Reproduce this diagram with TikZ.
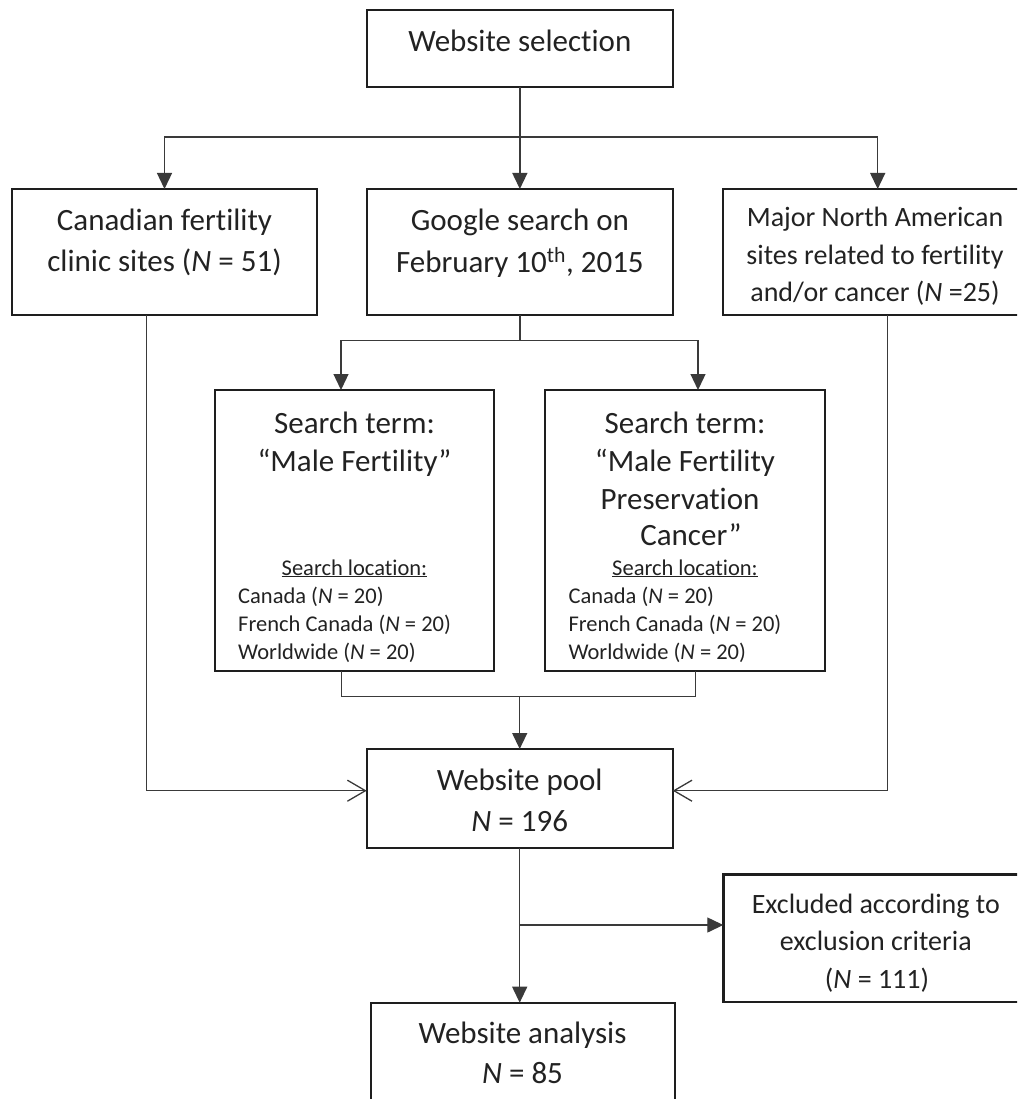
\documentclass[tikz,border=0pt]{standalone}
\usepackage{fontspec}
\setmainfont{Carlito}[Ligatures=NoCommon]
\usetikzlibrary{arrows.meta,calc}
\definecolor{boxc}{HTML}{1E1E1E}
\definecolor{linec}{HTML}{3A3A3A}
\definecolor{txtc}{HTML}{222222}
\begin{document}
\begin{tikzpicture}[x=1pt,y=-1pt,
  box/.style={draw=boxc, line width=2.4pt, inner sep=0pt, outer sep=0pt},
  big/.style={font=\fontsize{31}{37}\selectfont, text=txtc, inner sep=0pt, anchor=base},
  mid/.style={font=\fontsize{28}{34}\selectfont, text=txtc, inner sep=0pt, anchor=base},
  small/.style={font=\fontsize{22.5}{27}\selectfont, text=txtc, inner sep=0pt, anchor=base west},
  smallc/.style={small, anchor=base},
  conn/.style={draw=linec, line width=1.3pt},
  arr/.style={conn, -{Triangle[length=16pt,width=15pt]}},
  openarr/.style={conn, -{Straight Barb[length=18pt,width=21pt,line width=1.3pt]}}]
\useasboundingbox (0,0) rectangle (1017,1099);
\clip (0,0) rectangle (1017,1099);

% boxes
\node[box, minimum width=306.3pt, minimum height=77pt] (sel) at (519.85,48.5) {};
\node[box, minimum width=305pt, minimum height=126pt] (can) at (164.5,252) {};
\node[box, minimum width=306.3pt, minimum height=126pt] (goo) at (519.85,252) {};
\node[box, minimum width=320pt, minimum height=126pt] (maj) at (883,252) {};
\node[box, minimum width=279pt, minimum height=280.7pt] (s1) at (354.5,530.35) {};
\node[box, minimum width=280pt, minimum height=280.7pt] (s2) at (685,530.35) {};
\node[box, minimum width=306pt, minimum height=99pt] (pool) at (519.7,798.5) {};
\node[box, minimum width=320pt, minimum height=127.4pt] (exc) at (883.3,938) {};
\node[box, minimum width=304.3pt, minimum height=103.3pt] (ana) at (522.85,1054.35) {};

% connectors
\coordinate (h1) at (0,137);
\coordinate (mjx) at (877.7,0);
\draw[arr] (sel.south) -- (goo.north);
\draw[arr] (sel.south |- h1) -| (can.north);
\draw[arr] (sel.south |- h1) -| (mjx |- maj.north);

\coordinate (h2) at (0,340.7);
\coordinate (a1) at (341,0);
\coordinate (a2) at (698,0);
\draw[conn] (goo.south) -- (goo.south |- h2);
\draw[arr] (goo.south |- h2) -| (a1 |- s1.north);
\draw[arr] (goo.south |- h2) -| (a2 |- s2.north);

\coordinate (h3) at (0,696.7);
\coordinate (b1) at (341.7,0);
\coordinate (b2) at (695.7,0);
\draw[conn] (b1 |- s1.south) |- (b2 |- h3) -- (b2 |- s2.south);
\draw[arr] (pool.north |- h3) -- (pool.north);

\coordinate (cx) at (146.7,790.7);
\draw[openarr] (cx |- can.south) -- (cx) -- (cx -| pool.west);
\coordinate (mx) at (887.7,790.7);
\draw[openarr] (mx |- maj.south) -- (mx) -- (mx -| pool.east);

\draw[arr] (pool.south) -- (pool.south |- ana.north);
\coordinate (br) at (519.7,925);
\draw[arr] (br) -- (br -| exc.west);

% texts
\node[big] (tsel) at (519.85,52) {Website selection};
\node[big] (tcan1) at (164.5,230) {Canadian fertility};
\node[big] (tcan2) at (164.5,271.7) {clinic sites (\textit{N} = 51)};
\node[big] (tgoo1) at (519.85,230) {Google search on};
\node[big] (tgoo2) at (519.85,272) {February 10\textsuperscript{th}, 2015};
\node[mid] (tmaj1) at (875,226.5) {Major North American};
\node[mid] (tmaj2) at (875,264) {sites related to fertility};
\node[mid] (tmaj3) at (875,301.5) {and/or cancer (\textit{N} =25)};

\node[big] (ts11) at (354.5,433) {Search term:};
\node[big] (ts12) at (354.5,471) {“Male Fertility”};
\node[smallc] (ts13) at (354.5,575) {\underline{Search location:}};
\node[small] (ts14) at (238,603.5) {Canada (\textit{N} = 20)};
\node[small] (ts15) at (238,631.5) {French Canada (\textit{N} = 20)};
\node[small] (ts16) at (238,659) {Worldwide (\textit{N} = 20)};

\node[big] (ts21) at (685,433) {Search term:};
\node[big] (ts22) at (685,471) {“Male Fertility};
\node[big] (ts23) at (680,509) {Preservation};
\node[big] (ts24) at (691,545) {Cancer”};
\node[smallc] (ts25) at (685,575) {\underline{Search location:}};
\node[small] (ts26) at (568.3,603.5) {Canada (\textit{N} = 20)};
\node[small] (ts27) at (568.3,631.5) {French Canada (\textit{N} = 20)};
\node[small] (ts28) at (568.3,659) {Worldwide (\textit{N} = 20)};

\node[big] (tpool1) at (519.7,790) {Website pool};
\node[big] (tpool2) at (519.7,831.5) {\textit{N} = 196};

\node[mid] (texc1) at (875.8,913.3) {Excluded according to};
\node[mid] (texc2) at (875.8,950) {exclusion criteria};
\node[mid] (texc3) at (877,988) {(\textit{N} = 111)};

\node[big] (tana1) at (522.5,1043) {Website analysis};
\node[big] (tana2) at (522.5,1083) {\textit{N} = 85};
\end{tikzpicture}
\end{document}
